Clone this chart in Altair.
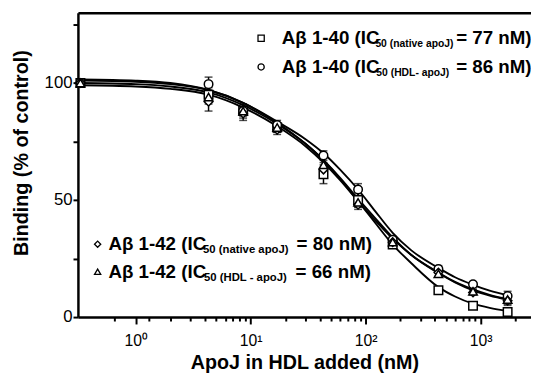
import altair as alt
import pandas as pd

# ---------------- data ----------------
series = ["Aβ1-40 native apoJ", "Aβ1-40 HDL-apoJ", "Aβ1-42 native apoJ", "Aβ1-42 HDL-apoJ"]
shapes = ["square", "circle", "diamond", "triangle-up"]

conc = [0.33, 4.3, 8.6, 17, 43, 86, 172, 430, 860, 1720]
sq_y = [100, 95, 88, 81, 61, 50, 31, 11.5, 4.8, 2.2]
sq_e = [0, 3, 2, 2, 4, 3, 1.5, 1, 1, 1]
ci_y = [100, 99.5, 88, 82, 69, 54.5, 33, 20.5, 14, 9]
ci_e = [0, 3, 3, 2, 2, 2.5, 1.5, 1.5, 1, 2]
di_y = [100, 92, 87, 80, 63, 48, 32, 19, 10.5, 7]
di_e = [0, 4, 3, 2, 3, 2, 1.5, 1.5, 1, 2]
tr_y = [100, 94, 88, 81, 65, 49, 32, 18.5, 11, 7.5]
tr_e = [0, 3, 2, 2, 3, 2, 1.5, 1.5, 1, 2]

fit_x = [0.33, 1, 2, 4.3, 8.6, 17, 30, 43, 60, 86, 120, 172, 250, 430, 600, 860, 1200, 1720]
sq_fit = [101, 100.5, 99.5, 97, 91.5, 83, 74, 67, 59, 49.5, 40.5, 31, 23, 12.8, 8.8, 5.7, 3.9, 2.6]
ci_fit = [101.5, 101, 100, 97, 91.5, 83.5, 76, 70, 63, 54.5, 45.5, 36, 28.5, 21, 17, 13.8, 11.3, 9.3]
di_fit = [100, 99.5, 98.5, 96, 90.5, 82.5, 74, 67, 59.5, 50.5, 42.5, 34, 26.5, 18.8, 14.8, 11.4, 9.2, 7.4]
tr_fit = [99, 98.5, 97.5, 95, 89.5, 81.5, 73, 66, 58.5, 49.5, 41.5, 33.5, 26.5, 19, 15, 11.8, 9.5, 7.7]

x_ticks = [0.65, 1, 1.3, 2, 3, 4, 5, 6, 7, 8, 9, 10, 20, 30, 40, 50, 60, 70, 80, 90,
           100, 200, 300, 400, 500, 600, 700, 800, 900, 1000, 2000]
y_ticks = [0, 25, 50, 75, 100, 125]

leg_main = ["Aβ 1-40 (IC", "Aβ 1-40  (IC", "Aβ 1-42  (IC", "Aβ 1-42  (IC"]
leg_sub = ["50 (native apoJ)", "50  (HDL-  apoJ)", "50 (native apoJ)", "50  (HDL - apoJ)"]
leg_tail = ["= 77 nM)", "= 86 nM)", "= 80 nM)", "= 66 nM)"]

# ---------------- tables ----------------
rows = []
for name, ys, es in zip(series, [sq_y, ci_y, di_y, tr_y], [sq_e, ci_e, di_e, tr_e]):
    for c, v, e in zip(conc, ys, es):
        rows.append(dict(series=name, conc=c, val=v, lo=v - e, hi=v + e, err=e))
pts = pd.DataFrame(rows)

frows = []
for name, ys in zip(series, [sq_fit, ci_fit, di_fit, tr_fit]):
    for c, v in zip(fit_x, ys):
        frows.append(dict(series=name, conc=c, val=v))
fit = pd.DataFrame(frows)

FONT = "Liberation Sans"
xscale = alt.Scale(type="log", domain=[0.314, 2748], nice=False)
yscale = alt.Scale(domain=[0, 130], nice=False, zero=False)
shape_scale = alt.Scale(domain=series, range=shapes)

major_test = "abs(log(datum.value)/LN10 - round(log(datum.value)/LN10)) < 0.001"

x_axis = alt.Axis(
    values=x_ticks,
    labelExpr=major_test + " ? '10' + ['⁰','¹','²','³'][round(log(datum.value)/LN10)] : ''",
    tickSize={"condition": {"test": major_test, "value": 7}, "value": 4},
    tickWidth=2, tickColor="black", domainWidth=2.5, domainColor="black",
    labelFont=FONT, labelFontSize=16, labelColor="black", labelPadding=9,
    labelOverlap=False, labelFlush=False, grid=False,
    title="ApoJ in HDL added (nM)", titleFont=FONT, titleFontSize=20,
    titleFontWeight="bold", titleColor="black", titleY=52, titleBaseline="alphabetic",
)
y_axis = alt.Axis(
    values=y_ticks, labelExpr="datum.value % 50 == 0 ? datum.label : ''",
    tickSize=5, tickWidth=2, tickColor="black", domainWidth=2.5, domainColor="black",
    labelFont=FONT, labelFontSize=17, labelColor="black", labelPadding=1, grid=False,
    title="Binding (% of control)", titleFont=FONT, titleFontSize=20,
    titleFontWeight="bold", titleColor="black", titleAngle=270,
    titleX=-57.5, titleY=142, titleBaseline="middle",
)

base_pts = alt.Chart(pts)

frame = base_pts.mark_point(opacity=0).encode(
    x=alt.X("conc:Q", scale=xscale,
            axis=alt.Axis(orient="top", labels=False, ticks=False, title=None,
                          domainWidth=2.5, domainColor="black", grid=False)),
    y=alt.Y("val:Q", scale=yscale, axis=None),
)

lines = alt.Chart(fit).mark_line(color="black", strokeWidth=1.9, interpolate="monotone").encode(
    x=alt.X("conc:Q", scale=xscale, axis=x_axis),
    y=alt.Y("val:Q", scale=yscale, axis=y_axis),
    detail="series:N",
)

ebar = base_pts.transform_filter("datum.err > 0").mark_rule(color="black", strokeWidth=1.5).encode(
    x=alt.X("conc:Q", scale=xscale, axis=None),
    y=alt.Y("lo:Q", scale=yscale, axis=None),
    y2="hi:Q",
)
cap_hi = base_pts.transform_filter("datum.err > 0").mark_tick(
    color="black", orient="horizontal", size=8, thickness=1.5).encode(
    x=alt.X("conc:Q", scale=xscale, axis=None),
    y=alt.Y("hi:Q", scale=yscale, axis=None),
)
cap_lo = base_pts.transform_filter("datum.err > 0").mark_tick(
    color="black", orient="horizontal", size=8, thickness=1.5).encode(
    x=alt.X("conc:Q", scale=xscale, axis=None),
    y=alt.Y("lo:Q", scale=yscale, axis=None),
)
markers = base_pts.mark_point(filled=False, fill="white", fillOpacity=1, color="black",
                              strokeWidth=1.5, size=75, opacity=1).encode(
    x=alt.X("conc:Q", scale=xscale, axis=None),
    y=alt.Y("val:Q", scale=yscale, axis=None),
    shape=alt.Shape("series:N", scale=shape_scale, legend=None),
)

# ---------------- legend (text annotations) ----------------
# pixel layout relative to the plot area: symbol x, main x, sub x, tail x, baseline y, sub size
leg_layout = [
    (186, 207, 302, 384, 32, 10.5),
    (186, 207, 303, 384, 61, 10.5),
    (20, 31, 127, 222, 241, 11.5),
    (20, 31, 128, 221, 269, 11.5),
]
leg_layers = []
for i in range(4):
    sx, mx, subx, tx, by, ss = leg_layout[i]
    d = pd.DataFrame([{"series": series[i], "main": leg_main[i], "sub": leg_sub[i], "tail": leg_tail[i]}])
    c = alt.Chart(d)
    leg_layers.append(c.mark_point(filled=False, fill="white", fillOpacity=1, color="black",
                                   strokeWidth=1.3, size=40, opacity=1).encode(
        x=alt.value(sx), y=alt.value(by - 6),
        shape=alt.Shape("series:N", scale=shape_scale, legend=None)))
    leg_layers.append(c.mark_text(align="left", baseline="alphabetic", font=FONT, fontSize=19,
                                  fontWeight="bold", color="black").encode(
        x=alt.value(mx), y=alt.value(by), text="main:N"))
    leg_layers.append(c.mark_text(align="left", baseline="alphabetic", font=FONT, fontSize=ss,
                                  fontWeight="bold", color="black").encode(
        x=alt.value(subx), y=alt.value(by + 3), text="sub:N"))
    leg_layers.append(c.mark_text(align="left", baseline="alphabetic", font=FONT, fontSize=19,
                                  fontWeight="bold", color="black").encode(
        x=alt.value(tx), y=alt.value(by), text="tail:N"))

chart = alt.layer(lines, frame, ebar, cap_hi, cap_lo, markers, *leg_layers).resolve_axis(
    x="independent", y="independent"
).properties(
    width=460, height=309,
    autosize=alt.AutoSizeParams(type="none"),
    padding={"left": 71, "top": 2, "right": 0, "bottom": 56},
    background="white",
).configure_view(stroke=None)

chart.save("out.html", embed_options={"renderer": "svg", "actions": False})
